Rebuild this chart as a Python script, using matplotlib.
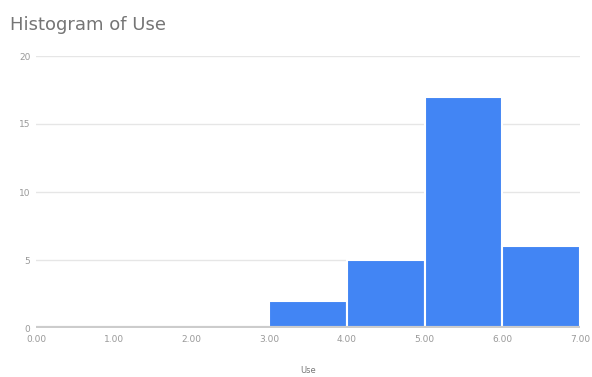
import numpy as np
import matplotlib.pyplot as plt

bin_edges = [0, 1, 2, 3, 4, 5, 6, 7]
counts = [0, 0, 0, 2, 5, 17, 6]
x_ticks = [0, 1, 2, 3, 4, 5, 6, 7]
x_tick_labels = ["0.00", "1.00", "2.00", "3.00", "4.00", "5.00", "6.00", "7.00"]
y_ticks = [0, 5, 10, 15, 20]

fig = plt.figure(figsize=(5.92, 3.77), dpi=100)
ax = fig.add_axes([36 / 592, 1 - 328 / 377, 544 / 592, 272 / 377])

lefts = np.array(bin_edges[:-1])
widths = np.diff(bin_edges)
ax.bar(lefts, counts, width=widths, align="edge", color="#4285F4",
       edgecolor="white", linewidth=1.5, zorder=3)

ax.set_xlim(0, 7)
ax.set_ylim(0, 20)
ax.set_yticks(y_ticks)
ax.set_yticklabels([str(v) for v in y_ticks])
ax.set_xticks(x_ticks)
ax.set_xticklabels(x_tick_labels)
ax.grid(axis="y", color="#e6e6e6", linewidth=1, zorder=0)
ax.axhline(0, color="#cccccc", linewidth=3, zorder=4)

for s in ax.spines.values():
    s.set_visible(False)
ax.tick_params(length=0, labelsize=6.5, labelcolor="#999999")
ax.tick_params(axis="y", pad=4)
ax.tick_params(axis="x", pad=5)

ax.set_xlabel("Use", fontsize=6, color="#777777", labelpad=16)
fig.text(10 / 592, 1 - 25 / 377, "Histogram of Use", fontsize=13,
         color="#757575", va="center", ha="left")

fig.savefig("out.png", dpi=100)
